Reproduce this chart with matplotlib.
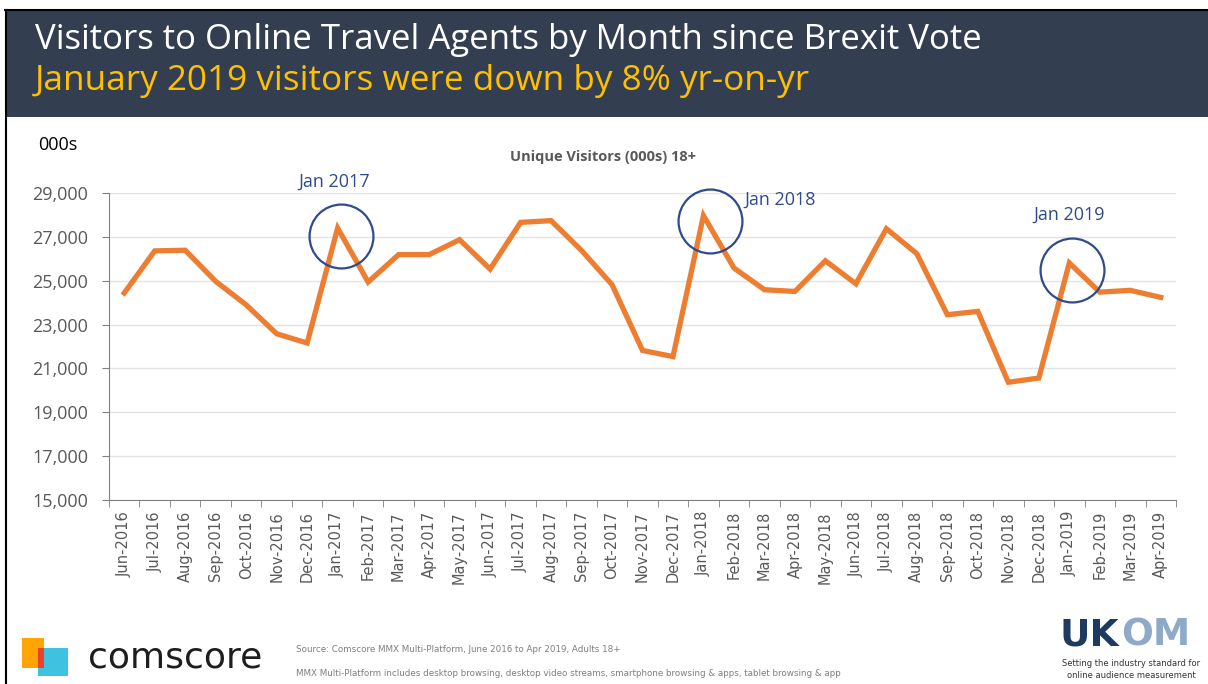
import numpy as np
import matplotlib
matplotlib.use('Agg')
from matplotlib import pyplot as plt
from matplotlib.patches import Rectangle

############### data ###################
months = ['Jun-2016', 'Jul-2016', 'Aug-2016', 'Sep-2016', 'Oct-2016', 'Nov-2016', 'Dec-2016',
          'Jan-2017', 'Feb-2017', 'Mar-2017', 'Apr-2017', 'May-2017', 'Jun-2017', 'Jul-2017',
          'Aug-2017', 'Sep-2017', 'Oct-2017', 'Nov-2017', 'Dec-2017', 'Jan-2018', 'Feb-2018',
          'Mar-2018', 'Apr-2018', 'May-2018', 'Jun-2018', 'Jul-2018', 'Aug-2018', 'Sep-2018',
          'Oct-2018', 'Nov-2018', 'Dec-2018', 'Jan-2019', 'Feb-2019', 'Mar-2019', 'Apr-2019']
visitors = [24440, 26360, 26390, 24970, 23900, 22580, 22160,
            27400, 24940, 26190, 26190, 26870, 25530, 27660,
            27740, 26380, 24820, 21820, 21540, 27970, 25580,
            24590, 24510, 25910, 24860, 27370, 26230, 23450,
            23600, 20370, 20560, 25810, 24480, 24560, 24240]
yticks = [15000, 17000, 19000, 21000, 23000, 25000, 27000, 29000]

# highlighted januaries: label, circle centre (month index, value), label anchor
call_labels = ['Jan 2017', 'Jan 2018', 'Jan 2019']
call_idx = [7.1, 19.2, 31.1]
call_val = [27050, 27740, 25500]
label_idx = [6.9, 21.5, 31.0]
label_val = [29500, 28680, 28000]

navy = '#2F4B8A'
gray = '#595959'

fig = plt.figure(figsize=(12.08, 6.84), dpi=100)
fig.patch.set_facecolor('white')

############### header ###################
fig.patches.append(Rectangle((0.004, 1 - 117 / 684), 0.996, 107 / 684,
                             transform=fig.transFigure, facecolor='#333F50',
                             edgecolor='none', zorder=0))
# slide frame (top and left edges)
fig.add_artist(plt.Line2D([0.004, 1.0], [1 - 10 / 684, 1 - 10 / 684], color='black', lw=1.5,
                          transform=fig.transFigure))
fig.add_artist(plt.Line2D([0.005, 0.005], [0, 1 - 10 / 684], color='black', lw=1.5,
                          transform=fig.transFigure))
fig.text(35 / 1208, 1 - 40 / 684, 'Visitors to Online Travel Agents by Month since Brexit Vote',
         color='white', fontsize=25, family='Open Sans', va='center', ha='left')
fig.text(35 / 1208, 1 - 81 / 684, 'January 2019 visitors were down by 8% yr-on-yr',
         color='#FFC000', fontsize=25.3, family='Open Sans', va='center', ha='left')

############### chart ###################
ax = fig.add_axes([109 / 1208, 1 - 500 / 684, (1176 - 109) / 1208, (500 - 193) / 684])
x = np.arange(len(months))
ax.plot(x, visitors, color='#ED7D31', lw=3.8, solid_joinstyle='miter', zorder=3)
ax.plot(call_idx, call_val, 'o', ms=46, mfc='none', mec=navy, mew=1.6, zorder=4,
        clip_on=False)
for lab, lx, ly in zip(call_labels, label_idx, label_val):
    ax.text(lx, ly, lab, color=navy, fontsize=13, family='Open Sans',
            ha='center', va='center')

ax.set_xlim(-0.5, len(months) - 0.5)
ax.set_ylim(15000, 29000)
ax.set_yticks(yticks)
ax.set_yticklabels(['{:,}'.format(v) for v in yticks], fontsize=13, color=gray,
                   family='Open Sans')
ax.set_xticks(x)
ax.set_xticklabels(months, rotation=90, fontsize=10.5, color=gray, family='DejaVu Sans')
ax.set_xticks(np.arange(len(months) + 1) - 0.5, minor=True)
ax.tick_params(axis='x', which='major', length=0, pad=8)
ax.tick_params(axis='x', which='minor', length=5, color='#808080')
ax.tick_params(axis='y', length=5, color='#808080', pad=10)
ax.grid(axis='y', color='#E3E3E3', lw=1)
ax.set_axisbelow(True)
for s in ['top', 'right']:
    ax.spines[s].set_visible(False)
ax.spines['left'].set_color('#808080')
ax.spines['bottom'].set_color('#808080')

fig.text(58 / 1208, 1 - 145 / 684, '000s', fontsize=13, family='Open Sans',
         ha='center', va='center', color='black')
fig.text(603 / 1208, 1 - 157 / 684, 'Unique Visitors (000s) 18+', fontsize=10.5,
         family='Open Sans', weight='bold', color=gray, ha='center', va='center')

############### footer ###################
fig.patches.append(Rectangle((22 / 1208, 1 - 668 / 684), 22 / 1208, 30 / 684,
                             transform=fig.transFigure, facecolor='#FFA400', edgecolor='none'))
fig.patches.append(Rectangle((38 / 1208, 1 - 676 / 684), 30 / 1208, 28 / 684,
                             transform=fig.transFigure, facecolor='#3FC1E0', edgecolor='none'))
fig.patches.append(Rectangle((38 / 1208, 1 - 668 / 684), 6 / 1208, 20 / 684,
                             transform=fig.transFigure, facecolor='#E8412C', edgecolor='none'))
fig.text(88 / 1208, 1 - 657 / 684, 'comscore', fontsize=26, family='DejaVu Sans',
         color='#1E1E1E', va='center', ha='left')
fig.text(296 / 1208, 1 - 650 / 684, 'Source: Comscore MMX Multi-Platform, June 2016 to Apr 2019, Adults 18+',
         fontsize=6.3, color='#7F7F7F', va='center', ha='left')
fig.text(296 / 1208, 1 - 673 / 684,
         'MMX Multi-Platform includes desktop browsing, desktop video streams, smartphone browsing & apps, tablet browsing & app',
         fontsize=6.3, color='#7F7F7F', va='center', ha='left')
fig.text(1119 / 1208, 1 - 635 / 684, 'UK', fontsize=27, weight='bold', color='#1F3A5F',
         va='center', ha='right', family='Liberation Sans Narrow')
fig.text(1121 / 1208, 1 - 635 / 684, 'OM', fontsize=27, weight='bold', color='#8FA9C9',
         va='center', ha='left', family='Liberation Sans Narrow')
fig.text(1131 / 1208, 1 - 663 / 684, 'Setting the industry standard for', fontsize=6,
         color='#333333', va='center', ha='center')
fig.text(1131 / 1208, 1 - 675 / 684, 'online audience measurement', fontsize=6,
         color='#333333', va='center', ha='center')

fig.savefig('out.png', dpi=100, facecolor='white')
